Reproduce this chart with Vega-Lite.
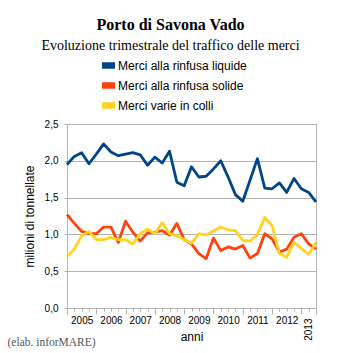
{
  "$schema": "https://vega.github.io/schema/vega-lite/v6.json",
  "autosize": {"type": "none"},
  "width": 249,
  "height": 184,
  "padding": {"left": 67, "top": 124, "right": 27, "bottom": 45},
  "background": "white",
  "title": {
    "text": "Porto di Savona Vado",
    "subtitle": "Evoluzione trimestrale del traffico delle merci",
    "font": "Liberation Serif",
    "fontSize": 16,
    "fontWeight": "bold",
    "color": "black",
    "subtitleFont": "Liberation Serif",
    "subtitleFontSize": 14,
    "subtitleColor": "black",
    "subtitlePadding": 6,
    "anchor": "middle",
    "frame": "group",
    "dx": -21,
    "offset": 6
  },
  "data": {
    "values": [
      {"q": 0, "liquide": 1.95, "solide": 1.27, "colli": 0.70},
      {"q": 1, "liquide": 2.06, "solide": 1.15, "colli": 0.80},
      {"q": 2, "liquide": 2.11, "solide": 1.04, "colli": 0.98},
      {"q": 3, "liquide": 1.96, "solide": 1.01, "colli": 1.04},
      {"q": 4, "liquide": 2.09, "solide": 1.01, "colli": 0.93},
      {"q": 5, "liquide": 2.23, "solide": 1.10, "colli": 0.93},
      {"q": 6, "liquide": 2.12, "solide": 1.10, "colli": 0.96},
      {"q": 7, "liquide": 2.07, "solide": 0.89, "colli": 0.93},
      {"q": 8, "liquide": 2.09, "solide": 1.18, "colli": 0.93},
      {"q": 9, "liquide": 2.11, "solide": 1.03, "colli": 0.87},
      {"q": 10, "liquide": 2.08, "solide": 0.91, "colli": 1.01},
      {"q": 11, "liquide": 1.94, "solide": 1.02, "colli": 1.07},
      {"q": 12, "liquide": 2.05, "solide": 1.03, "colli": 1.01},
      {"q": 13, "liquide": 1.97, "solide": 1.05, "colli": 1.16},
      {"q": 14, "liquide": 2.13, "solide": 0.99, "colli": 1.01},
      {"q": 15, "liquide": 1.71, "solide": 1.15, "colli": 0.98},
      {"q": 16, "liquide": 1.66, "solide": 0.93, "colli": 0.93},
      {"q": 17, "liquide": 1.92, "solide": 0.87, "colli": 0.88},
      {"q": 18, "liquide": 1.78, "solide": 0.74, "colli": 1.01},
      {"q": 19, "liquide": 1.79, "solide": 0.67, "colli": 0.99},
      {"q": 20, "liquide": 1.89, "solide": 0.95, "colli": 1.05},
      {"q": 21, "liquide": 2.00, "solide": 0.78, "colli": 1.10},
      {"q": 22, "liquide": 1.78, "solide": 0.83, "colli": 1.06},
      {"q": 23, "liquide": 1.54, "solide": 0.80, "colli": 1.05},
      {"q": 24, "liquide": 1.45, "solide": 0.85, "colli": 0.92},
      {"q": 25, "liquide": 1.74, "solide": 0.68, "colli": 0.91},
      {"q": 26, "liquide": 2.03, "solide": 0.74, "colli": 1.00},
      {"q": 27, "liquide": 1.63, "solide": 1.01, "colli": 1.23},
      {"q": 28, "liquide": 1.62, "solide": 0.94, "colli": 1.12},
      {"q": 29, "liquide": 1.70, "solide": 0.76, "colli": 0.74},
      {"q": 30, "liquide": 1.57, "solide": 0.80, "colli": 0.69},
      {"q": 31, "liquide": 1.76, "solide": 0.96, "colli": 0.89},
      {"q": 32, "liquide": 1.62, "solide": 1.01, "colli": 0.81},
      {"q": 33, "liquide": 1.57, "solide": 0.87, "colli": 0.73},
      {"q": 34, "liquide": 1.44, "solide": 0.80, "colli": 0.89}
    ]
  },
  "transform": [{"fold": ["liquide", "solide", "colli"], "as": ["serie", "v"]}],
  "layer": [
    {
      "mark": {"type": "line", "strokeWidth": 2.8, "strokeJoin": "round"},
      "encoding": {
        "x": {
          "field": "q",
          "type": "quantitative",
          "scale": {"domain": [0, 34], "nice": false, "zero": false},
          "axis": {
            "orient": "bottom",
            "values": [0,1,2,3,4,5,6,7,8,9,10,11,12,13,14,15,16,17,18,19,20,21,22,23,24,25,26,27,28,29,30,31,32,33,34],
            "grid": false,
            "tickSize": {"condition": {"test": "datum.value % 4 == 0 || datum.value == 34", "value": 6}, "value": 3},
            "labelExpr": "datum.value % 4 == 2 && datum.value < 32 ? toString(2005 + (datum.value - 2) / 4) : ''",
            "labelAngle": 0,
            "labelAlign": "center",
            "labelBaseline": "top",
            "labelOverlap": false,
            "labelFlush": false,
            "labelPadding": 4,
            "title": "anni",
            "titlePadding": 3
          }
        },
        "y": {
          "field": "v",
          "type": "quantitative",
          "scale": {"domain": [0, 2.5], "nice": false},
          "axis": {
            "values": [0, 0.5, 1, 1.5, 2, 2.5],
            "labelExpr": "replace(format(datum.value, '.1f'), '.', ',')",
            "tickSize": 3,
            "labelPadding": 6,
            "title": "milioni di tonnellate",
            "titlePadding": 8
          }
        },
        "color": {
          "field": "serie",
          "type": "nominal",
          "scale": {"domain": ["liquide", "solide", "colli"], "range": ["#004586", "#ff420e", "#ffd320"]},
          "legend": {
            "title": null,
            "orient": "none",
            "legendX": 35,
            "legendY": -65,
            "direction": "vertical",
            "padding": 0,
            "symbolType": "M-1,-0.5H1V0.5H-1Z",
            "symbolSize": 169,
            "symbolStrokeWidth": 0,
            "labelFont": "Liberation Sans",
            "labelFontSize": 12,
            "labelColor": "black",
            "labelOffset": 3,
            "rowPadding": 7,
            "encode": {"symbols": {"update": {"fill": {"scale": "color", "field": "value"}, "fillOpacity": {"value": 1}}}},
            "labelExpr": "datum.value == 'liquide' ? 'Merci alla rinfusa liquide' : datum.value == 'solide' ? 'Merci alla rinfusa solide' : 'Merci varie in colli'"
          }
        }
      }
    },
    {
      "mark": {"type": "point", "opacity": 0},
      "encoding": {
        "x": {
          "field": "q",
          "type": "quantitative",
          "axis": {
            "orient": "bottom",
            "values": [33],
            "grid": false,
            "ticks": false,
            "domain": false,
            "labelExpr": "'2013'",
            "labelAngle": 270,
            "labelAlign": "right",
            "labelBaseline": "middle",
            "labelPadding": 10,
            "title": "(elab. inforMARE)",
            "titleFont": "Liberation Serif",
            "titleFontSize": 11.5,
            "titleFontWeight": "normal",
            "titleColor": "#555555",
            "titleAlign": "left",
            "titleAnchor": "start",
            "titleBaseline": "alphabetic",
            "titleX": -60,
            "titleY": 37
          }
        },
        "y": {"field": "v", "type": "quantitative", "axis": null}
      }
    }
  ],
  "resolve": {"axis": {"x": "independent", "y": "independent"}},
  "config": {
    "view": {"stroke": "#b3b3b3"},
    "axis": {
      "domainColor": "#b3b3b3",
      "tickColor": "#b3b3b3",
      "gridColor": "#b3b3b3",
      "labelColor": "black",
      "labelFont": "Liberation Sans",
      "labelFontSize": 10,
      "titleFont": "Liberation Sans",
      "titleFontSize": 12,
      "titleFontWeight": "normal",
      "titleColor": "black"
    }
  }
}
